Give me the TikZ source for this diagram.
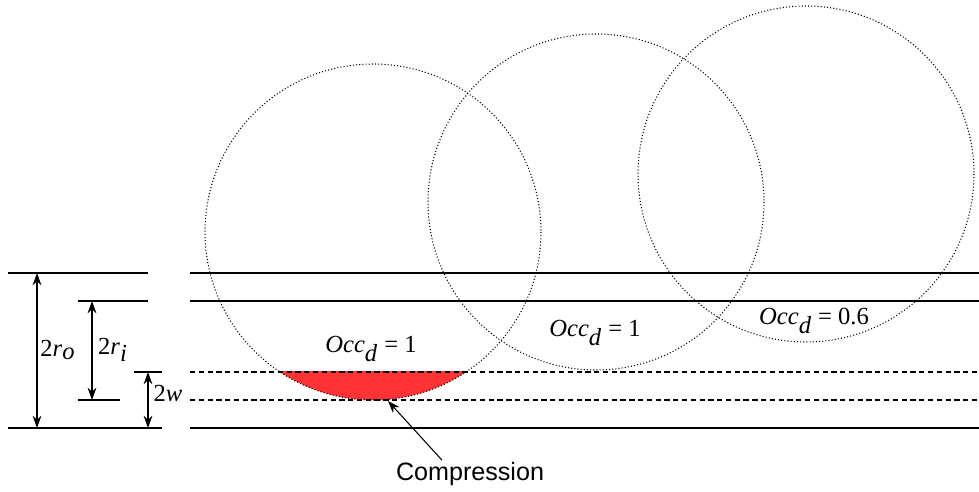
\documentclass[tikz,border=0pt]{standalone}
\usepackage{fontspec}
\setmainfont{Liberation Serif}
\setsansfont{Liberation Sans}
\usetikzlibrary{arrows.meta}
\definecolor{squeeze}{RGB}{255,51,51}

\begin{document}
\begin{tikzpicture}[x=0.02cm, y=-0.02cm,
    wall/.style={line width=0.7pt},
    gap/.style={line width=0.6pt, dash pattern=on 3pt off 2pt},
    cell/.style={line width=0.6pt, dash pattern=on 0.6pt off 1.2pt},
    dim/.style={line width=0.7pt, {Stealth[length=7pt,width=5pt]}-{Stealth[length=7pt,width=5pt]}},
    lab/.style={font=\fontsize{14}{16}\selectfont, inner sep=0pt}]
  \useasboundingbox (0,0) rectangle (979,492);
  % circle centres
  \coordinate (C1) at (373,232);
  \coordinate (C2) at (596,202);
  \coordinate (C3) at (806,174);
  % compressed part of the first circle
  \begin{scope}
    \clip (190,372) rectangle (979,400);
    \fill[squeeze] (C1) circle[radius=168];
  \end{scope}
  % channel lines
  \draw[wall] (190,273) -- (979,273);
  \draw[wall] (190,301) -- (979,301);
  \draw[gap] (190,372) -- (979,372);
  \draw[gap] (190,400) -- (979,400);
  \draw[wall] (190,428) -- (979,428);
  % circles
  \draw[cell] (C1) circle[radius=168];
  \draw[cell] (C2) circle[radius=168];
  \draw[cell] (C3) circle[radius=168];
  % dimension lines on the left
  \draw[wall] (8,273) -- (148,273);
  \draw[wall] (78,301) -- (148,301);
  \draw[wall] (78,400) -- (120,400);
  \draw[wall] (134,372) -- (162,372);
  \draw[wall] (8,428) -- (162,428);
  \coordinate (ro1) at (37,273);
  \coordinate (ro2) at (37,428);
  \coordinate (ri1) at (92,301);
  \coordinate (ri2) at (92,400);
  \coordinate (w1) at (148,372);
  \coordinate (w2) at (148,428);
  \draw[dim] (ro1) -- (ro2);
  \draw[dim] (ri1) -- (ri2);
  \draw[dim] (w1) -- (w2);
  \node[lab] (ro) at (58,350) {2\textit{r}$_{\textit{o}}$};
  \node[lab] (ri) at (113,350) {2\textit{r}$_{\textit{i}}$};
  \node[lab] (w) at (168,393) {2\textit{w}};
  % occupancy labels
  \node[lab] (occ1) at (371,349) {\textit{Occ}$_{\textit{d}}$ = 1};
  \node[lab] (occ2) at (595,333) {\textit{Occ}$_{\textit{d}}$ = 1};
  \node[lab] (occ3) at (814,321) {\textit{Occ}$_{\textit{d}}$ = 0.6};
  % compression arrow
  \coordinate (tip) at (388,401);
  \node[font=\sffamily\fontsize{14.3}{17}\selectfont, inner sep=1pt] (comp) at (470,474) {Compression};
  \draw[line width=0.6pt, -{Stealth[length=7pt,width=5pt]}] ([xshift=-0.56cm]comp.north) -- (tip);
\end{tikzpicture}
\end{document}
